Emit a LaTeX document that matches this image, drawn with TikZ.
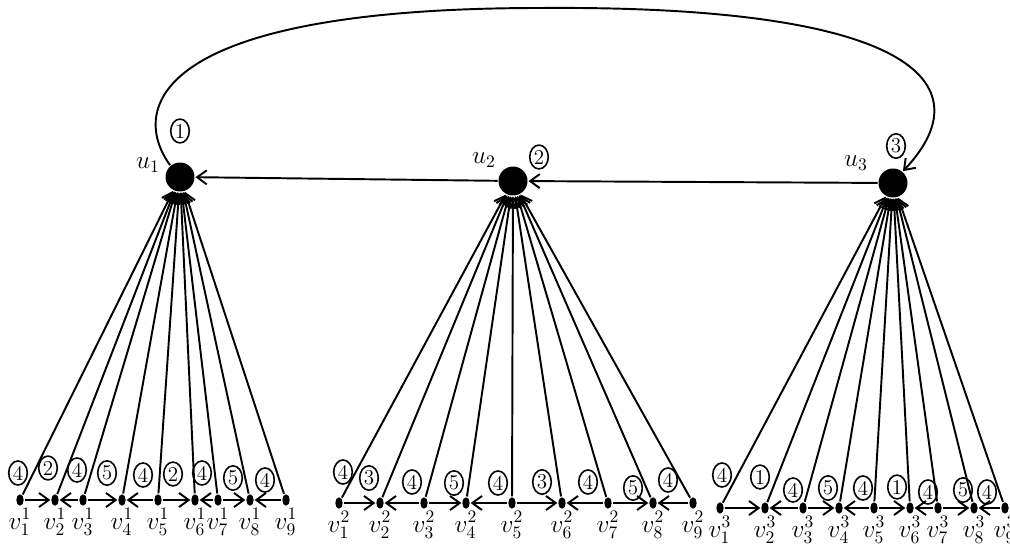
\documentclass[tikz,border=0pt]{standalone}
\usepackage{amsmath,amssymb}
\usetikzlibrary{arrows.meta,shapes.geometric}

\begin{document}
\begin{tikzpicture}[x=0.02cm,y=-0.02cm,line width=1.1pt,>={Straight Barb[length=5.5pt,width=8pt]},
every label/.append style={font=\Large,inner sep=0.5pt},
hub/.style={circle,fill,inner sep=0pt,minimum size=16.5pt},
leaf/.style={ellipse,fill,inner sep=0pt,minimum width=4.2pt,minimum height=6.5pt,label distance=0pt},
wt/.style={ellipse,draw,line width=0.9pt,inner sep=0.8pt,font=\large},
nm/.style={font=\Large}]
\useasboundingbox (0,0) rectangle (1010,554);
% centres
\node[hub] (u1) at (180,177) {}; \node[hub] (u2) at (513,181) {}; \node[hub] (u3) at (893,183) {};
\node[nm] (lu1) at (148,165) {$u_1$}; \node[nm] (lu2) at (484,160) {$u_2$}; \node[nm] (lu3) at (856,163) {$u_3$};
\node[wt] (wu1) at (180,131) {1}; \node[wt] (wu2) at (539,157) {2}; \node[wt] (wu3) at (896,146) {3};
% first row
\node[leaf,label=below:$v^1_1$] (a1) at (20,500) {}; \node[leaf,label=below:$v^1_2$] (a2) at (55,500) {}; \node[leaf,label=below:$v^1_3$] (a3) at (83,500) {};
\node[leaf,label=below:$v^1_4$] (a4) at (122,500) {}; \node[leaf,label=below:$v^1_5$] (a5) at (158,500) {}; \node[leaf,label=below:$v^1_6$] (a6) at (195,500) {};
\node[leaf,label=below:$v^1_7$] (a7) at (218,500) {}; \node[leaf,label=below:$v^1_8$] (a8) at (250,500) {}; \node[leaf,label=below:$v^1_9$] (a9) at (286,500) {};
\node[wt] (wa1) at (18,473) {4}; \node[wt] (wa2) at (48,468) {2}; \node[wt] (wa3) at (77,470) {4}; \node[wt] (wa4) at (107,473) {5}; \node[wt] (wa5) at (143,475) {4};
\node[wt] (wa6) at (173,474) {2}; \node[wt] (wa7) at (202,473) {4}; \node[wt] (wa8) at (233,478) {5}; \node[wt] (wa9) at (265,480) {4};
% second row
\node[leaf,label=below:$v^2_1$] (b1) at (339,503) {}; \node[leaf,label=below:$v^2_2$] (b2) at (380,503) {}; \node[leaf,label=below:$v^2_3$] (b3) at (424,503) {};
\node[leaf,label=below:$v^2_4$] (b4) at (466,503) {}; \node[leaf,label=below:$v^2_5$] (b5) at (512,503) {}; \node[leaf,label=below:$v^2_6$] (b6) at (562,503) {};
\node[leaf,label=below:$v^2_7$] (b7) at (608,503) {}; \node[leaf,label=below:$v^2_8$] (b8) at (653,503) {}; \node[leaf,label=below:$v^2_9$] (b9) at (693,503) {};
\node[wt] (wb1) at (343,472) {4}; \node[wt] (wb2) at (369,478) {3}; \node[wt] (wb3) at (412,482) {4}; \node[wt] (wb4) at (454,483) {5}; \node[wt] (wb5) at (498,483) {4};
\node[wt] (wb6) at (542,482) {3}; \node[wt] (wb7) at (588,482) {4}; \node[wt] (wb8) at (633,488) {5}; \node[wt] (wb9) at (668,480) {4};
% third row
\node[leaf,label=below:$v^3_1$] (c1) at (720,508) {}; \node[leaf,label=below:$v^3_2$] (c2) at (765,508) {}; \node[leaf,label=below:$v^3_3$] (c3) at (803,508) {};
\node[leaf,label=below:$v^3_4$] (c4) at (839,508) {}; \node[leaf,label=below:$v^3_5$] (c5) at (874,508) {}; \node[leaf,label=below:$v^3_6$] (c6) at (910,508) {};
\node[leaf,label=below:$v^3_7$] (c7) at (938,508) {}; \node[leaf,label=below:$v^3_8$] (c8) at (974,508) {}; \node[leaf,label=below:$v^3_9$] (c9) at (1005,508) {};
\node[wt] (wc1) at (722,475) {4}; \node[wt] (wc2) at (760,477) {1}; \node[wt] (wc3) at (793,490) {4}; \node[wt] (wc4) at (828,488) {5}; \node[wt] (wc5) at (863,488) {4};
\node[wt] (wc6) at (897,487) {1}; \node[wt] (wc7) at (928,492) {4}; \node[wt] (wc8) at (963,490) {5}; \node[wt] (wc9) at (987,492) {4};
% arcs
\draw[->] (u3) -- (u2); \draw[->] (u2) -- (u1);
\draw[->] (u1.130) .. controls (130,110) and (150,8) .. (540,8) .. controls (930,5) and (980,90) .. (u3.50);
\draw[->] (a1) -- (u1); \draw[->] (a2) -- (u1); \draw[->] (a3) -- (u1); \draw[->] (a4) -- (u1); \draw[->] (a5) -- (u1);
\draw[->] (a6) -- (u1); \draw[->] (a7) -- (u1); \draw[->] (a8) -- (u1); \draw[->] (a9) -- (u1);
\draw[->] (b1) -- (u2); \draw[->] (b2) -- (u2); \draw[->] (b3) -- (u2); \draw[->] (b4) -- (u2); \draw[->] (b5) -- (u2);
\draw[->] (b6) -- (u2); \draw[->] (b7) -- (u2); \draw[->] (b8) -- (u2); \draw[->] (b9) -- (u2);
\draw[->] (c1) -- (u3); \draw[->] (c2) -- (u3); \draw[->] (c3) -- (u3); \draw[->] (c4) -- (u3); \draw[->] (c5) -- (u3);
\draw[->] (c6) -- (u3); \draw[->] (c7) -- (u3); \draw[->] (c8) -- (u3); \draw[->] (c9) -- (u3);
\draw[->] (a1) -- (a2); \draw[->] (a3) -- (a2); \draw[->] (a3) -- (a4); \draw[->] (a5) -- (a4);
\draw[->] (a5) -- (a6); \draw[->] (a7) -- (a6); \draw[->] (a7) -- (a8); \draw[->] (a9) -- (a8);
\draw[->] (b1) -- (b2); \draw[->] (b3) -- (b2); \draw[->] (b3) -- (b4); \draw[->] (b5) -- (b4);
\draw[->] (b5) -- (b6); \draw[->] (b7) -- (b6); \draw[->] (b7) -- (b8); \draw[->] (b9) -- (b8);
\draw[->] (c1) -- (c2); \draw[->] (c3) -- (c2); \draw[->] (c3) -- (c4); \draw[->] (c5) -- (c4);
\draw[->] (c5) -- (c6); \draw[->] (c7) -- (c6); \draw[->] (c7) -- (c8); \draw[->] (c9) -- (c8);
\end{tikzpicture}
\end{document}
